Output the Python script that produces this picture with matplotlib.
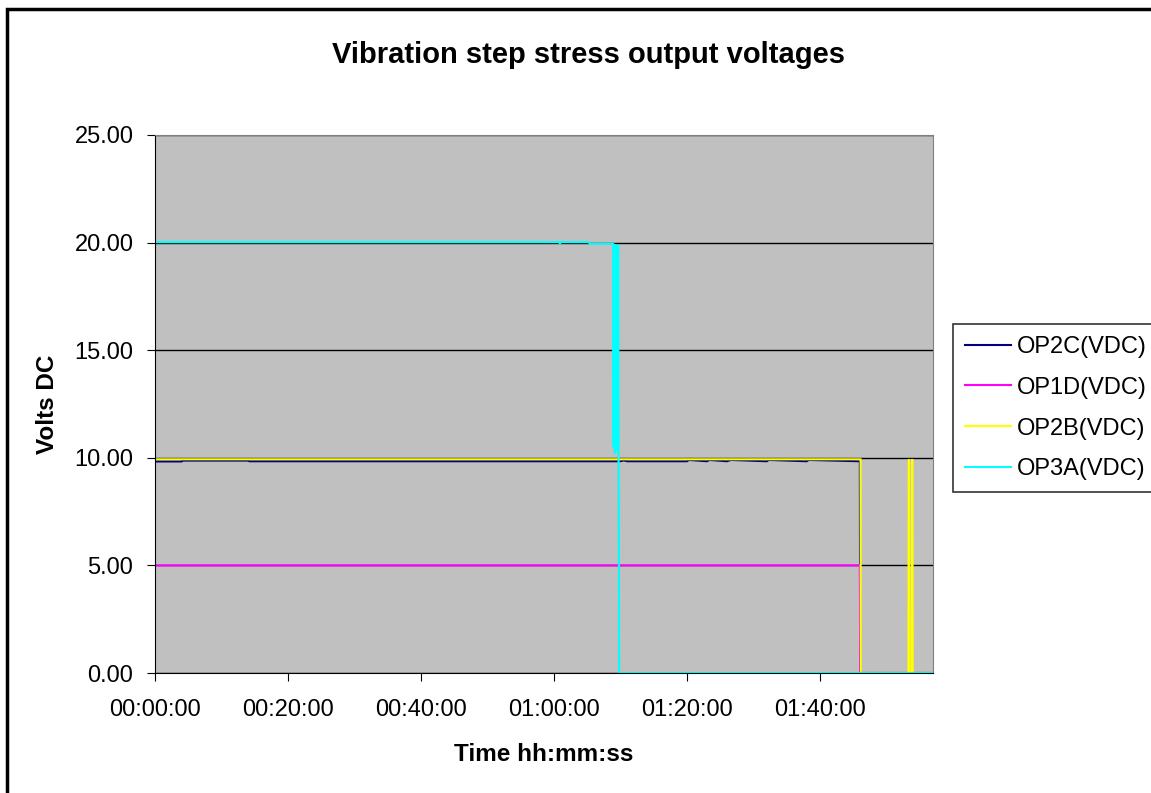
import matplotlib
matplotlib.use("Agg")
import matplotlib.pyplot as plt
from matplotlib.patches import Rectangle
from matplotlib.ticker import FuncFormatter, MultipleLocator

# time in minutes from start, volts DC (breakpoints)
op2c_t = [0, 4, 4.1, 14, 14.2, 70, 70.5, 71, 80, 80.3, 83, 83.4, 86, 86.6, 92, 92.3, 98, 98.3, 106.0, 106.05, 117]
op2c_v = [9.83, 9.83, 9.87, 9.87, 9.84, 9.84, 9.88, 9.84, 9.84, 9.9, 9.84, 9.9, 9.84, 9.9, 9.84, 9.9, 9.84, 9.9, 9.84, 0, 0]

op1d_t = [0, 106.0, 106.05, 117]
op1d_v = [5.0, 5.0, 0, 0]

op2b_t = [0, 106.1, 106.15, 113.3, 113.35, 113.4, 113.45, 113.8, 113.85, 113.9, 113.95, 117]
op2b_v = [9.93, 9.93, 0, 0, 9.9, 9.9, 0, 0, 9.9, 9.9, 0, 0]

op3a_t = [0, 60.8, 60.9, 61.0, 65.2, 65.4, 68.9, 68.95, 69.05, 69.15, 69.25, 69.35,
          69.45, 69.55, 69.65, 69.72, 69.8, 117]
op3a_v = [20.02, 20.02, 19.93, 20.02, 20.02, 19.94, 19.94, 10.5, 19.9, 10.2, 19.9, 10.6,
          19.8, 10.3, 19.9, 10.0, 0, 0]

series = [
    ("OP2C(VDC)", op2c_t, op2c_v, "#000080"),
    ("OP1D(VDC)", op1d_t, op1d_v, "#FF00FF"),
    ("OP2B(VDC)", op2b_t, op2b_v, "#FFFF00"),
    ("OP3A(VDC)", op3a_t, op3a_v, "#00FFFF"),
]

plt.rcParams["font.family"] = ["Liberation Sans", "DejaVu Sans"]

fig = plt.figure(figsize=(11.51, 7.93), dpi=100)
fig.patch.set_facecolor("white")
ax = fig.add_axes([155 / 1151, 1 - 673 / 793, (933 - 155) / 1151, (673 - 135) / 793])
ax.set_facecolor("#C0C0C0")

# outer chart border (only top and left are inside the picture)
fig.add_artist(Rectangle((7 / 1151, -0.05), 1.2, 1 - 9 / 793 + 0.05,
                         transform=fig.transFigure, fill=False,
                         edgecolor="black", linewidth=2.5))

for name, t, v, col in series:
    ax.plot(t, v, color=col, linewidth=1.5, label=name, solid_joinstyle="miter")

ax.set_xlim(0, 117)
ax.set_ylim(0, 25)
ax.yaxis.set_major_locator(MultipleLocator(5))
ax.xaxis.set_major_locator(MultipleLocator(20))
ax.yaxis.set_major_formatter(FuncFormatter(lambda y, p: f"{y:.2f}"))
ax.xaxis.set_major_formatter(FuncFormatter(
    lambda m, p: f"{int(m // 60):02d}:{int(m % 60):02d}:00"))
ax.grid(axis="y", color="black", linewidth=1)
ax.set_axisbelow(True)
for s in ["top", "right"]:
    ax.spines[s].set_color("#808080")
for s in ["left", "bottom"]:
    ax.spines[s].set_color("black")
ax.tick_params(axis="both", labelsize=17, direction="out", length=5.5, color="black")
ax.tick_params(axis="x", pad=13)
ax.tick_params(axis="y", pad=10)

ax.set_xlabel("Time hh:mm:ss", fontsize=17.5, fontweight="bold", labelpad=16)
ax.set_ylabel("Volts DC", fontsize=17.5, fontweight="bold", labelpad=11)
fig.text(589 / 1151, 1 - 55 / 793, "Vibration step stress output voltages",
         fontsize=21, fontweight="bold", ha="center", va="center")

leg = fig.legend(loc="upper left", bbox_to_anchor=(953 / 1151, 1 - 324 / 793),
                 fontsize=17, frameon=True, fancybox=False, handlelength=1.95,
                 handletextpad=0.25, labelspacing=0.8, borderpad=0.5,
                 borderaxespad=0)
leg.get_frame().set_edgecolor("black")
leg.get_frame().set_linewidth(1.2)

fig.savefig("out.png", dpi=100)
